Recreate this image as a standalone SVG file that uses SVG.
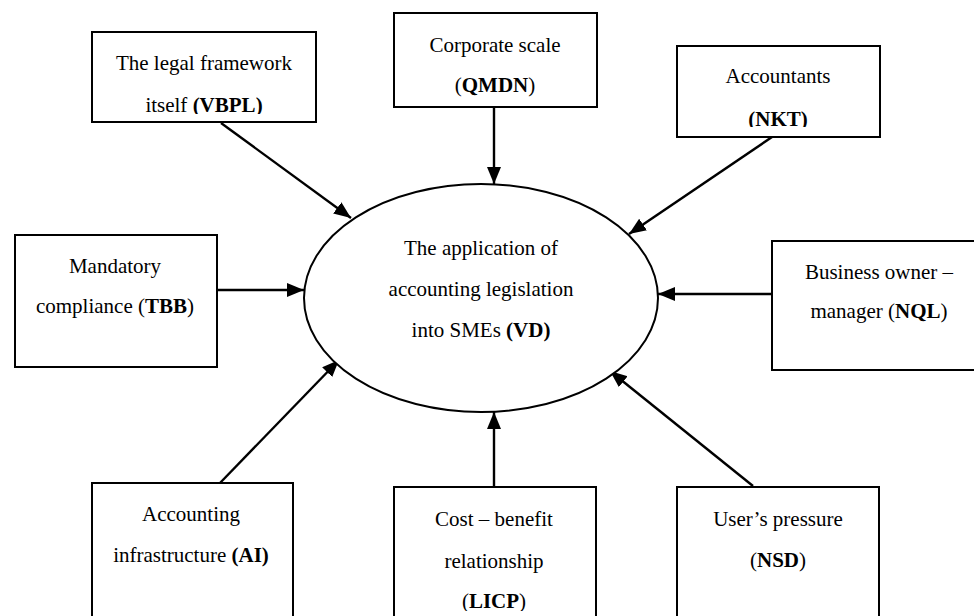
<svg xmlns="http://www.w3.org/2000/svg" width="974" height="616" viewBox="0 0 974 616">
<style>
.box{fill:#fff;stroke:#000;stroke-width:2}
.t{font-family:"Liberation Serif","Times New Roman",serif;font-size:21px;fill:#000;text-anchor:middle}
.b{font-weight:bold}
.c{stroke:#000;stroke-width:2.4;fill:none;marker-end:url(#ah)}
</style>
<defs>
<marker id="ah" markerUnits="userSpaceOnUse" markerWidth="18" markerHeight="16" refX="17" refY="7" orient="auto">
<path d="M0,0 L17,7 L0,14 Z" fill="#000"/>
</marker>
<clipPath id="cV"><rect x="92" y="32" width="224" height="82"/></clipPath>
<clipPath id="cN"><rect x="677" y="46" width="203" height="81"/></clipPath>
<clipPath id="cL"><rect x="394" y="487" width="202" height="124"/></clipPath>
</defs>
<rect width="974" height="616" fill="#fff"/>
<g id="connectors">
<line class="c" x1="221" y1="123" x2="351" y2="218"/>
<line class="c" x1="494" y1="108" x2="494" y2="184"/>
<line class="c" x1="772" y1="137" x2="629" y2="234"/>
<line class="c" x1="218" y1="290" x2="304" y2="290"/>
<line class="c" x1="772" y1="294" x2="658" y2="294"/>
<line class="c" x1="220" y1="483" x2="339" y2="360"/>
<line class="c" x1="494" y1="487" x2="494" y2="412"/>
<line class="c" x1="753" y1="486" x2="610" y2="371"/>
</g>
<g id="VD">
<ellipse cx="481" cy="298" rx="177" ry="114" fill="#fff" stroke="#000" stroke-width="2"/>
<text class="t" x="481" y="255">The application of</text>
<text class="t" x="481" y="296">accounting legislation</text>
<text class="t" x="481" y="337">into SMEs <tspan class="b">(VD)</tspan></text>
</g>
<g id="VBPL">
<rect class="box" x="92" y="32" width="224" height="90"/>
<g clip-path="url(#cV)">
<text class="t" x="204" y="70">The legal framework</text>
<text class="t" x="204" y="112">itself <tspan class="b">(VBPL)</tspan></text>
</g>
</g>
<g id="QMDN">
<rect class="box" x="394" y="13" width="203" height="94"/>
<text class="t" x="495" y="52">Corporate scale</text>
<text class="t" x="495" y="92">(<tspan class="b">QMDN</tspan>)</text>
</g>
<g id="NKT">
<rect class="box" x="677" y="46" width="203" height="91"/>
<g clip-path="url(#cN)">
<text class="t" x="778" y="83">Accountants</text>
<text class="t b" x="778" y="126">(NKT)</text>
</g>
</g>
<g id="TBB">
<rect class="box" x="15" y="235" width="202" height="132"/>
<text class="t" x="115" y="273">Mandatory</text>
<text class="t" x="115" y="313">compliance (<tspan class="b">TBB</tspan>)</text>
</g>
<g id="NQL">
<rect class="box" x="772" y="241" width="220" height="129"/>
<text class="t" x="879" y="279">Business owner –</text>
<text class="t" x="879" y="318">manager (<tspan class="b">NQL</tspan>)</text>
</g>
<g id="AI">
<rect class="box" x="92" y="483" width="201" height="150"/>
<text class="t" x="191" y="521">Accounting</text>
<text class="t" x="191" y="562">infrastructure <tspan class="b">(AI)</tspan></text>
</g>
<g id="LICP">
<rect class="box" x="394" y="487" width="202" height="150"/>
<g clip-path="url(#cL)">
<text class="t" x="494" y="526">Cost – benefit</text>
<text class="t" x="494" y="568">relationship</text>
<text class="t" x="494" y="608">(<tspan class="b">LICP</tspan>)</text>
</g>
</g>
<g id="NSD">
<rect class="box" x="677" y="487" width="202" height="150"/>
<text class="t" x="778" y="526">User’s pressure</text>
<text class="t" x="778" y="567">(<tspan class="b">NSD</tspan>)</text>
</g>
</svg>
